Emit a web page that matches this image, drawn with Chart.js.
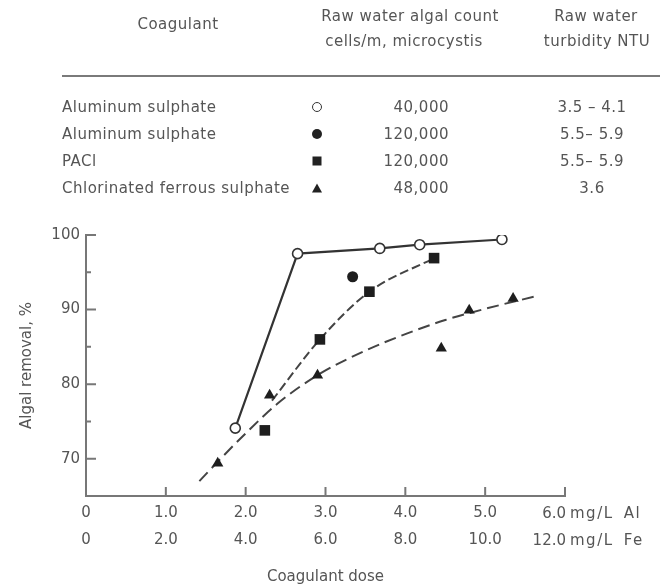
<!DOCTYPE html>
<html>
<head>
<meta charset="utf-8">
<script src="https://cdn.jsdelivr.net/npm/chart.js@4.4.1/dist/chart.umd.min.js"></script>
<style>
  html, body { margin: 0; padding: 0; background: #fff; }
  #wrap { position: relative; width: 665px; height: 586px; overflow: hidden;
          font-family: "DejaVu Sans", sans-serif; color: #555; }
  #wrap canvas { position: absolute; left: 0; top: 0; }
  .t { position: absolute; white-space: nowrap; font-size: 15px; line-height: 16px; letter-spacing: 0.5px; }
  .c { transform: translateX(-50%); }
  .r { transform: translateX(-100%); }
  .u { letter-spacing: 1.5px; word-spacing: 4px; }
  .rule { position: absolute; left: 62px; width: 598px; top: 75px; height: 2px; background: #7a7a7a; }
  .mk { position: absolute; transform: translate(-50%, -50%); box-sizing: border-box; }
  .mk-open { width: 10px; height: 10px; border: 1.6px solid #333; border-radius: 50%; background: #fff; }
  .mk-dot { width: 10px; height: 10px; border-radius: 50%; background: #222; }
  .mk-sq { width: 9px; height: 9px; background: #222; }
  .mk-tri { width: 0; height: 0; border-left: 5px solid transparent; border-right: 5px solid transparent;
            border-bottom: 9px solid #222; }
</style>
</head>
<body>
<div id="wrap">
  <canvas id="chart" width="665" height="586"></canvas>
  <div id="table"></div>
</div>
<script>
// ---- table of test conditions ----
const coagulants = ['Aluminum sulphate', 'Aluminum  sulphate', 'PACl', 'Chlorinated ferrous sulphate'];
const markers = ['mk-open', 'mk-dot', 'mk-sq', 'mk-tri'];
const algalCounts = ['40,000', '120,000', '120,000', '48,000'];
const turbidities = ['3.5 \u2013 4.1', '5.5\u2013 5.9', '5.5\u2013 5.9', '3.6'];

// ---- measured algal removal (%) against coagulant dose ----
// aluminum sulphate, 40,000 cells/mL (dose as mg/L Al)
const alumLowDose = [1.87, 2.65, 3.68, 4.18, 5.21];
const alumLowRemoval = [74.1, 97.5, 98.2, 98.7, 99.4];
// aluminum sulphate, 120,000 cells/mL (mg/L Al)
const alumHighDose = [3.34];
const alumHighRemoval = [94.4];
// PACl, 120,000 cells/mL (mg/L Al)
const paclDose = [2.24, 2.93, 3.55, 4.36];
const paclRemoval = [73.8, 86.0, 92.4, 96.9];
// hand-fitted trend through the PACl results
const paclTrendDose = [2.33, 2.93, 3.55, 4.36];
const paclTrendRemoval = [77.8, 86.0, 92.4, 96.9];
// chlorinated ferrous sulphate, 48,000 cells/mL (dose as mg/L Fe)
const ferrousDose = [3.3, 4.6, 5.8, 8.9, 9.6, 10.7];
const ferrousRemoval = [69.4, 78.5, 81.2, 84.8, 89.9, 91.5];
// hand-fitted trend through the ferrous results (mg/L Fe)
const ferrousTrendDose = [2.84, 3.3, 4.0, 4.8, 5.8, 7.0, 8.0, 9.0, 10.0, 11.28];
const ferrousTrendRemoval = [67.0, 69.6, 73.4, 77.4, 81.2, 84.5, 86.7, 88.6, 90.1, 91.8];

// ---- axis labels ----
const alTickLabels = ['0', '1.0', '2.0', '3.0', '4.0', '5.0', '6.0'];
const feTickLabels = ['0', '2.0', '4.0', '6.0', '8.0', '10.0', '12.0'];
const alUnit = 'mg/L Al';
const feUnit = 'mg/L Fe';
const yTitle = 'Algal removal, %';
const xTitle = 'Coagulant dose';

const pts = (xs, ys) => xs.map((x, i) => ({ x, y: ys[i] }));

// ---- build the table ----
const table = document.getElementById('table');
function addText(txt, x, y, cls) {
  const d = document.createElement('div');
  d.className = 't ' + (cls || '');
  d.textContent = txt;
  d.style.left = x + 'px';
  d.style.top = (y - 8) + 'px';
  table.appendChild(d);
  return d;
}
addText('Coagulant', 178, 24, 'c');
addText('Raw water algal count', 410, 16, 'c');
addText('cells/m, microcystis', 404, 41, 'c');
addText('Raw water', 596, 16, 'c');
addText('turbidity NTU', 597, 41, 'c');
const rule = document.createElement('div');
rule.className = 'rule';
table.appendChild(rule);
const rowY = [107, 134, 161, 188];
coagulants.forEach((name, i) => {
  addText(name, 62, rowY[i], '');
  const m = document.createElement('div');
  m.className = 'mk ' + markers[i];
  m.style.left = '317px';
  m.style.top = rowY[i] + 'px';
  table.appendChild(m);
  addText(algalCounts[i], 449, rowY[i], 'r');
  addText(turbidities[i], 592, rowY[i], 'c');
});

// inward tick marks on both axes
const inwardTicks = {
  id: 'inwardTicks',
  beforeDatasetsDraw(chart) {
    const { ctx, chartArea: a, scales } = chart;
    ctx.save();
    ctx.strokeStyle = '#777';
    ctx.lineWidth = 2;
    ctx.beginPath();
    scales.y.ticks.forEach(t => {
      const y = scales.y.getPixelForValue(t.value);
      const len = t.value % 10 === 0 ? 10 : 5;
      ctx.moveTo(a.left, y);
      ctx.lineTo(a.left + len, y);
    });
    scales.x.ticks.forEach(t => {
      if (t.value === 0) return;
      const x = scales.x.getPixelForValue(t.value);
      ctx.moveTo(x, a.bottom);
      ctx.lineTo(x, a.bottom - 9);
    });
    ctx.stroke();
    ctx.restore();
  }
};

const font = { family: 'DejaVu Sans', size: 15 };
const ink = '#333';

const chart = new Chart(document.getElementById('chart'), {
  type: 'line',
  data: {
    datasets: [
      {
        label: 'Aluminum sulphate 40,000',
        data: pts(alumLowDose, alumLowRemoval),
        xAxisID: 'x',
        borderColor: ink, borderWidth: 2.2, tension: 0,
        pointStyle: 'circle', pointRadius: 5, pointBorderWidth: 1.6,
        pointBorderColor: ink, pointBackgroundColor: '#fff'
      },
      {
        label: 'Aluminum sulphate 120,000',
        data: pts(alumHighDose, alumHighRemoval),
        xAxisID: 'x', showLine: false,
        pointStyle: 'circle', pointRadius: 5.5, pointBorderWidth: 0,
        pointBackgroundColor: '#1e1e1e'
      },
      {
        label: 'PACl',
        data: pts(paclDose, paclRemoval),
        xAxisID: 'x', showLine: false,
        pointStyle: 'rect', pointRadius: 7.5, pointBorderWidth: 0,
        pointBackgroundColor: '#1e1e1e'
      },
      {
        label: 'Chlorinated ferrous sulphate',
        data: pts(ferrousDose, ferrousRemoval),
        xAxisID: 'xFe', showLine: false,
        pointStyle: 'triangle', pointRadius: 6.5, pointBorderWidth: 0,
        pointBackgroundColor: '#1e1e1e'
      },
      {
        label: 'PACl trend',
        data: pts(paclTrendDose, paclTrendRemoval),
        xAxisID: 'x',
        borderColor: '#444', borderWidth: 2, borderDash: [9, 4],
        cubicInterpolationMode: 'monotone', pointRadius: 0
      },
      {
        label: 'Ferrous trend',
        data: pts(ferrousTrendDose, ferrousTrendRemoval),
        xAxisID: 'xFe',
        borderColor: '#444', borderWidth: 2, borderDash: [12, 6],
        cubicInterpolationMode: 'monotone', pointRadius: 0
      }
    ]
  },
  options: {
    responsive: false,
    animation: false,
    devicePixelRatio: 1,
    layout: { padding: { left: 0, top: 235, right: 100, bottom: 0 } },
    plugins: { legend: { display: false }, tooltip: { enabled: false } },
    scales: {
      x: {
        type: 'linear', position: 'bottom', weight: 0,
        min: 0, max: 6,
        afterFit: s => { s.height = 28; },
        afterBuildTicks: s => { s.ticks = alTickLabels.map((_, i) => ({ value: i })); },
        grid: { display: false, drawTicks: false },
        border: { display: true, color: '#777', width: 2 },
        ticks: {
          font, color: '#555', padding: 8, maxRotation: 0, autoSkip: false,
          callback: (v, i) => (i === alTickLabels.length - 1 ? '' : alTickLabels[i])
        }
      },
      xFe: {
        type: 'linear', position: 'bottom', weight: 1,
        min: 0, max: 12,
        afterFit: s => { s.height = 62; },
        afterBuildTicks: s => { s.ticks = feTickLabels.map((_, i) => ({ value: i * 2 })); },
        grid: { display: false, drawTicks: false },
        border: { display: false },
        ticks: {
          font, color: '#555', padding: 7, maxRotation: 0, autoSkip: false,
          callback: (v, i) => (i === feTickLabels.length - 1 ? '' : feTickLabels[i])
        },
        title: { display: true, text: xTitle, font, color: '#555', padding: { top: 0, bottom: 0 } }
      },
      y: {
        type: 'linear', position: 'left',
        min: 65, max: 100,
        afterFit: s => { s.width = 86; },
        afterBuildTicks: s => {
          const out = [];
          for (let v = 70; v <= 100; v += 5) out.push({ value: v });
          s.ticks = out;
        },
        grid: { display: false, drawTicks: false },
        border: { display: true, color: '#777', width: 2 },
        ticks: {
          font, color: '#555', padding: 6, autoSkip: false,
          callback: v => (v % 10 === 0 ? String(v) : '')
        },
        title: { display: true, text: yTitle, font, color: '#555', padding: { top: 18, bottom: 0 } }
      }
    }
  },
  plugins: [inwardTicks]
});

// the last dose labels carry the units, placed against the 6.0 / 12.0 ticks
const xEnd = chart.scales.x.getPixelForValue(6);
const endLabels = [
  addText(alTickLabels[alTickLabels.length - 1], xEnd + 1, 513, 'r'),
  addText(alUnit, xEnd + 5, 513, 'u'),
  addText(feTickLabels[feTickLabels.length - 1], xEnd + 1, 540, 'r'),
  addText(feUnit, xEnd + 5, 540, 'u')
];
endLabels.filter((_, i) => i % 2 === 0).forEach(d => { d.style.letterSpacing = '0'; });
</script>
</body>
</html>
